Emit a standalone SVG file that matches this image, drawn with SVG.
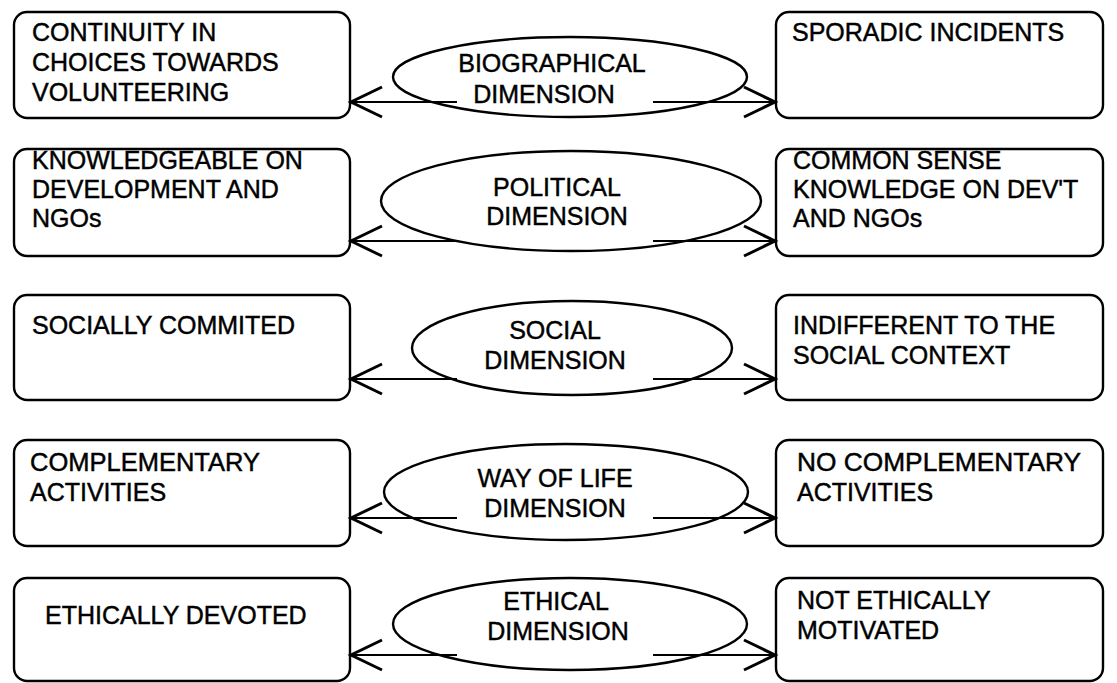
<svg xmlns="http://www.w3.org/2000/svg" width="1117" height="683" viewBox="0 0 1117 683">
<style>
.box{fill:#fff;stroke:#000;stroke-width:2.4}
.ell{fill:#fff;stroke:#000;stroke-width:2.4}
.t{font-family:"Liberation Sans",Arial,sans-serif;font-size:25px;fill:#000;stroke:#000;stroke-width:0.45}
.c{text-anchor:middle}
.ln{stroke:#000;stroke-width:2;fill:none}
</style>
<defs>
<marker id="ah" markerUnits="userSpaceOnUse" markerWidth="40" markerHeight="40" refX="0" refY="0" viewBox="-34 -20 40 40" orient="auto">
<path d="M-31,-15 L0,0 L-31,15" fill="none" stroke="#000" stroke-width="3"/>
</marker>
</defs>
<rect width="1117" height="683" fill="#fff"/>

<g id="left1"><rect class="box" x="14" y="12" width="336" height="106" rx="13"/>
<text class="t" x="32" y="41">CONTINUITY IN</text><text class="t" x="32" y="71">CHOICES TOWARDS</text><text class="t" x="32" y="101">VOLUNTEERING</text></g>
<g id="right1"><rect class="box" x="776" y="12" width="327" height="106" rx="13"/>
<text class="t" x="792" y="41">SPORADIC INCIDENTS</text></g>
<g id="dim1"><ellipse class="ell" cx="570" cy="77" rx="177" ry="40"/>
<text class="t c" x="552" y="72">BIOGRAPHICAL</text><text class="t c" x="544" y="103">DIMENSION</text></g>

<g id="left2"><rect class="box" x="14" y="149" width="336" height="107" rx="13"/>
<text class="t" x="32" y="169">KNOWLEDGEABLE ON</text><text class="t" x="32" y="198">DEVELOPMENT AND</text><text class="t" x="32" y="227">NGOs</text></g>
<g id="right2"><rect class="box" x="776" y="149" width="327" height="107" rx="13"/>
<text class="t" x="793" y="169">COMMON SENSE</text><text class="t" x="793" y="198">KNOWLEDGE ON DEV'T</text><text class="t" x="793" y="227">AND NGOs</text></g>
<g id="dim2"><ellipse class="ell" cx="571" cy="201" rx="190" ry="50"/>
<text class="t c" x="557" y="196">POLITICAL</text><text class="t c" x="557" y="225">DIMENSION</text></g>

<g id="left3"><rect class="box" x="14" y="295" width="336" height="105" rx="13"/>
<text class="t" x="32" y="334">SOCIALLY COMMITED</text></g>
<g id="right3"><rect class="box" x="776" y="295" width="327" height="105" rx="13"/>
<text class="t" x="793" y="334">INDIFFERENT TO THE</text><text class="t" x="793" y="364">SOCIAL CONTEXT</text></g>
<g id="dim3"><ellipse class="ell" cx="572" cy="348" rx="160" ry="47"/>
<text class="t c" x="555" y="339">SOCIAL</text><text class="t c" x="555" y="369">DIMENSION</text></g>

<g id="left4"><rect class="box" x="14" y="440" width="336" height="106" rx="13"/>
<text class="t" x="30" y="471" textLength="230" lengthAdjust="spacingAndGlyphs">COMPLEMENTARY</text><text class="t" x="30" y="501">ACTIVITIES</text></g>
<g id="right4"><rect class="box" x="776" y="440" width="327" height="106" rx="13"/>
<text class="t" x="797" y="471" textLength="284" lengthAdjust="spacingAndGlyphs">NO COMPLEMENTARY</text><text class="t" x="797" y="501">ACTIVITIES</text></g>
<g id="dim4"><ellipse class="ell" cx="566" cy="492" rx="182" ry="48"/>
<text class="t c" x="555" y="487">WAY OF LIFE</text><text class="t c" x="555" y="517">DIMENSION</text></g>

<g id="left5"><rect class="box" x="14" y="578" width="336" height="103" rx="13"/>
<text class="t" x="45" y="624">ETHICALLY DEVOTED</text></g>
<g id="right5"><rect class="box" x="776" y="578" width="327" height="103" rx="13"/>
<text class="t" x="797" y="609">NOT ETHICALLY</text><text class="t" x="797" y="639">MOTIVATED</text></g>
<g id="dim5"><ellipse class="ell" cx="570" cy="624" rx="177" ry="46"/>
<text class="t c" x="556" y="610">ETHICAL</text><text class="t c" x="558" y="640">DIMENSION</text></g>

<g id="connectors">
<line class="ln" x1="457" y1="102" x2="351" y2="102" marker-end="url(#ah)"/>
<line class="ln" x1="653" y1="102" x2="775" y2="102" marker-end="url(#ah)"/>
<line class="ln" x1="458" y1="241" x2="351" y2="241" marker-end="url(#ah)"/>
<line class="ln" x1="653" y1="241" x2="775" y2="241" marker-end="url(#ah)"/>
<line class="ln" x1="457" y1="379" x2="351" y2="379" marker-end="url(#ah)"/>
<line class="ln" x1="653" y1="379" x2="775" y2="379" marker-end="url(#ah)"/>
<line class="ln" x1="457" y1="518" x2="351" y2="518" marker-end="url(#ah)"/>
<line class="ln" x1="653" y1="518" x2="775" y2="518" marker-end="url(#ah)"/>
<line class="ln" x1="457" y1="655" x2="351" y2="655" marker-end="url(#ah)"/>
<line class="ln" x1="653" y1="655" x2="775" y2="655" marker-end="url(#ah)"/>
</g>
</svg>
